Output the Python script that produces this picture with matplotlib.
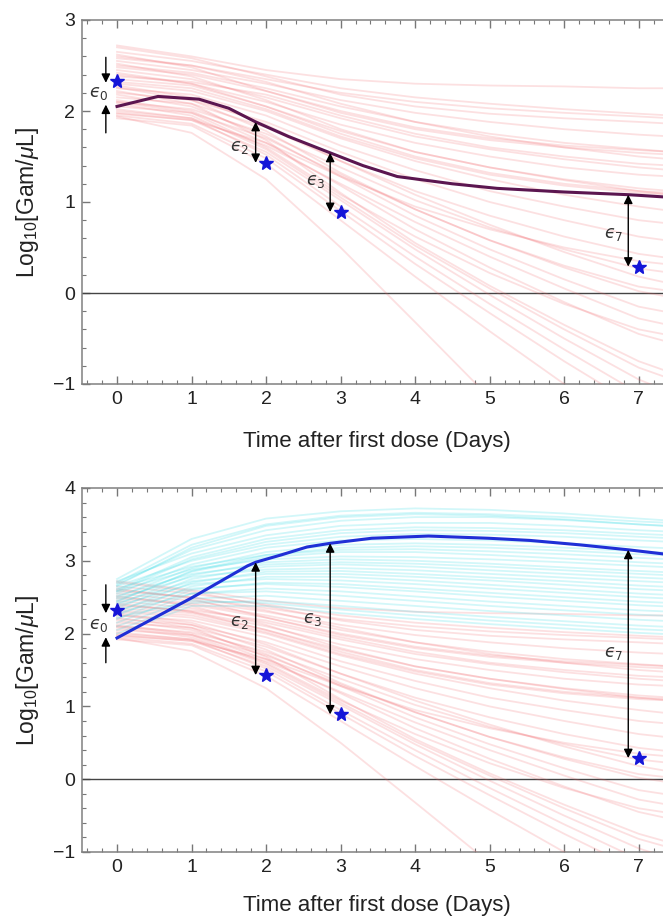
import numpy as np
import matplotlib
matplotlib.use("Agg")
import matplotlib.pyplot as plt
from matplotlib.ticker import MultipleLocator

plt.rcParams['font.family'] = ['Liberation Sans', 'DejaVu Sans']
plt.rcParams['mathtext.fontset'] = 'custom'
plt.rcParams['mathtext.rm'] = 'Liberation Sans'
plt.rcParams['mathtext.it'] = 'Liberation Sans:italic'

# sample days for the model trajectories
days = [0, 1, 2, 3, 4, 5, 6, 7, 7.45]

# non-responder (red) trajectories, log10 Gam/uL at each sample day
red_runs = [
    [2.72, 2.60, 2.45, 2.35, 2.30, 2.28, 2.27, 2.25, 2.25],
    [2.65, 2.55, 2.40, 2.25, 2.15, 2.08, 2.02, 1.97, 1.95],
    [2.60, 2.50, 2.35, 2.20, 2.10, 2.03, 1.98, 1.94, 1.92],
    [2.70, 2.58, 2.38, 2.18, 2.05, 1.97, 1.92, 1.88, 1.86],
    [2.55, 2.45, 2.30, 2.12, 1.98, 1.88, 1.80, 1.74, 1.72],
    [2.50, 2.42, 2.25, 2.05, 1.88, 1.75, 1.65, 1.58, 1.55],
    [2.62, 2.48, 2.22, 1.98, 1.80, 1.68, 1.60, 1.54, 1.52],
    [2.45, 2.35, 2.15, 1.92, 1.72, 1.58, 1.47, 1.38, 1.35],
    [2.40, 2.30, 2.10, 1.85, 1.65, 1.50, 1.38, 1.30, 1.28],
    [2.35, 2.28, 2.05, 1.78, 1.55, 1.38, 1.24, 1.12, 1.08],
    [2.30, 2.22, 2.00, 1.70, 1.45, 1.25, 1.08, 0.95, 0.90],
    [2.25, 2.18, 1.95, 1.62, 1.35, 1.12, 0.95, 0.80, 0.76],
    [2.20, 2.12, 1.88, 1.55, 1.25, 1.00, 0.80, 0.62, 0.57],
    [2.15, 2.08, 1.82, 1.45, 1.12, 0.85, 0.62, 0.43, 0.38],
    [2.10, 2.02, 1.75, 1.38, 1.02, 0.72, 0.48, 0.27, 0.22],
    [2.28, 2.15, 1.85, 1.45, 1.08, 0.75, 0.45, 0.18, 0.10],
    [2.05, 1.98, 1.70, 1.30, 0.92, 0.58, 0.28, 0.02, -0.05],
    [2.18, 2.05, 1.72, 1.28, 0.85, 0.48, 0.15, -0.15, -0.22],
    [2.00, 1.92, 1.62, 1.20, 0.78, 0.40, 0.05, -0.28, -0.36],
    [2.12, 2.00, 1.65, 1.18, 0.70, 0.28, -0.10, -0.45, -0.55],
    [2.08, 1.95, 1.58, 1.05, 0.52, 0.05, -0.40, -0.82, -0.95],
    [1.98, 1.90, 1.55, 1.02, 0.48, -0.02, -0.50, -0.95, -1.10],
    [2.02, 1.92, 1.52, 0.95, 0.40, -0.12, -0.62, -1.10, -1.25],
    [1.95, 1.86, 1.48, 0.90, 0.32, -0.22, -0.75, -1.25, -1.40],
    [2.22, 2.08, 1.68, 1.10, 0.55, 0.08, -0.35, -0.75, -0.88],
    [1.92, 1.84, 1.42, 0.80, 0.18, -0.42, -1.00, -1.55, -1.70],
    [1.94, 1.76, 1.25, 0.50, -0.32, -1.15, -2.00, -2.80, -3.10],
    [2.48, 2.40, 2.22, 2.00, 1.82, 1.70, 1.62, 1.57, 1.55],
    [2.38, 2.32, 2.18, 1.95, 1.75, 1.60, 1.50, 1.42, 1.40],
    [2.58, 2.50, 2.32, 2.08, 1.88, 1.72, 1.60, 1.50, 1.47],
    [2.32, 2.25, 2.02, 1.72, 1.48, 1.30, 1.18, 1.10, 1.08],
    [2.42, 2.30, 2.05, 1.75, 1.50, 1.32, 1.20, 1.12, 1.10],
    [1.97, 1.90, 1.65, 1.28, 0.95, 0.70, 0.50, 0.35, 0.31],
    [2.10, 1.98, 1.60, 1.08, 0.62, 0.22, -0.12, -0.40, -0.47],
    [2.26, 2.12, 1.78, 1.32, 0.92, 0.58, 0.30, 0.07, 0.02],
    [2.52, 2.38, 2.12, 1.80, 1.55, 1.38, 1.25, 1.15, 1.12],
]

# responder (cyan) trajectories, bottom panel only
cyan_runs = [
    [2.75, 3.30, 3.58, 3.68, 3.72, 3.70, 3.65, 3.58, 3.55],
    [2.70, 3.22, 3.50, 3.62, 3.66, 3.64, 3.60, 3.54, 3.52],
    [2.68, 3.15, 3.42, 3.55, 3.60, 3.60, 3.56, 3.50, 3.48],
    [2.72, 3.10, 3.35, 3.48, 3.52, 3.52, 3.48, 3.42, 3.40],
    [2.60, 3.05, 3.30, 3.42, 3.46, 3.45, 3.42, 3.37, 3.35],
    [2.65, 3.00, 3.22, 3.33, 3.37, 3.36, 3.33, 3.28, 3.26],
    [2.55, 2.95, 3.18, 3.28, 3.30, 3.28, 3.24, 3.19, 3.17],
    [2.50, 2.90, 3.12, 3.22, 3.24, 3.22, 3.18, 3.13, 3.11],
    [2.62, 2.92, 3.08, 3.15, 3.16, 3.13, 3.09, 3.04, 3.02],
    [2.45, 2.85, 3.05, 3.12, 3.12, 3.08, 3.03, 2.98, 2.96],
    [2.58, 2.88, 3.02, 3.06, 3.05, 3.02, 2.98, 2.93, 2.91],
    [2.40, 2.80, 2.98, 3.02, 3.00, 2.96, 2.91, 2.86, 2.84],
    [2.52, 2.82, 2.95, 2.98, 2.96, 2.92, 2.87, 2.82, 2.80],
    [2.35, 2.75, 2.92, 2.95, 2.92, 2.87, 2.82, 2.77, 2.75],
    [2.48, 2.78, 2.88, 2.90, 2.87, 2.82, 2.77, 2.72, 2.70],
    [2.30, 2.70, 2.85, 2.86, 2.82, 2.77, 2.72, 2.66, 2.64],
    [2.42, 2.72, 2.82, 2.82, 2.78, 2.73, 2.67, 2.61, 2.59],
    [2.25, 2.65, 2.78, 2.78, 2.73, 2.67, 2.61, 2.55, 2.53],
    [2.38, 2.68, 2.75, 2.73, 2.68, 2.62, 2.56, 2.50, 2.48],
    [2.20, 2.60, 2.70, 2.68, 2.62, 2.56, 2.50, 2.44, 2.42],
    [2.32, 2.62, 2.68, 2.64, 2.58, 2.51, 2.45, 2.39, 2.37],
    [2.15, 2.55, 2.62, 2.58, 2.51, 2.44, 2.38, 2.32, 2.30],
    [2.28, 2.55, 2.58, 2.52, 2.45, 2.38, 2.32, 2.26, 2.24],
    [2.10, 2.48, 2.52, 2.45, 2.38, 2.31, 2.25, 2.19, 2.17],
    [2.05, 2.42, 2.45, 2.38, 2.30, 2.23, 2.17, 2.11, 2.09],
    [2.22, 2.45, 2.42, 2.33, 2.25, 2.18, 2.12, 2.06, 2.04],
    [2.00, 2.38, 2.38, 2.28, 2.20, 2.13, 2.07, 2.01, 1.99],
    [2.66, 3.18, 3.48, 3.60, 3.64, 3.62, 3.57, 3.50, 3.47],
    [2.58, 3.02, 3.26, 3.38, 3.42, 3.41, 3.38, 3.33, 3.31],
    [2.44, 2.86, 3.08, 3.18, 3.20, 3.18, 3.14, 3.09, 3.07],
]

# best-fit curves
top_fit_t = [0, 0.55, 1.1, 1.5, 1.86, 2.3, 2.86, 3.3, 3.76, 4.5, 5.1, 6.0, 6.87, 7.45]
top_fit_y = [2.05, 2.16, 2.13, 2.03, 1.88, 1.72, 1.54, 1.40, 1.28, 1.20, 1.15, 1.11, 1.08, 1.05]
bot_fit_t = [0, 1, 1.75, 1.86, 2.2, 2.55, 2.86, 3.42, 4.18, 4.98, 5.54, 6.2, 6.87, 7.45]
bot_fit_y = [1.94, 2.49, 2.93, 2.98, 3.08, 3.19, 3.24, 3.31, 3.34, 3.31, 3.28, 3.22, 3.15, 3.08]

# observed patient data (stars)
obs_days = [0, 2, 3, 7]
obs_vals = [2.33, 1.43, 0.89, 0.29]

eps_labels = ['$\u03f5_2$', '$\u03f5_3$', '$\u03f5_7$']


def style_axes(ax, ymin, ymax):
    ax.set_xlim(-0.47, 7.42)
    ax.set_ylim(ymin, ymax)
    ax.xaxis.set_major_locator(MultipleLocator(1))
    ax.xaxis.set_minor_locator(MultipleLocator(0.2))
    ax.yaxis.set_major_locator(MultipleLocator(1))
    ax.yaxis.set_minor_locator(MultipleLocator(0.2))
    ax.tick_params(which='both', direction='in', top=True, right=False,
                   color='#777777', labelcolor='#222222', labelsize=14, pad=5)
    ax.tick_params(which='major', length=6, width=1)
    ax.tick_params(which='minor', length=3, width=0.8)
    for sp in ax.spines.values():
        sp.set_color('#808080')
        sp.set_linewidth(1.1)
    ax.axhline(0, color='#444444', lw=1, zorder=2)
    ax.set_ylabel(r'Log$_{10}$[Gam/$\mu$L]', fontsize=16.5, color='#222222')
    ax.yaxis.set_label_coords(-0.07, 0.5)
    ax.set_xlabel('Time after first dose (Days)', fontsize=16, color='#222222')


def arrow(ax, x, y0, y1, style):
    ax.annotate('', xy=(x, y1), xytext=(x, y0),
                arrowprops=dict(arrowstyle=style, color='black', lw=1,
                                mutation_scale=13, shrinkA=0, shrinkB=0),
                zorder=6)


def annotate_errors(ax, fit_t, fit_y, e0_down, e0_up, eps_pos):
    off = 0.14
    arrow(ax, -0.15, e0_down[0], e0_down[1], '-|>')
    arrow(ax, -0.15, e0_up[0], e0_up[1], '-|>')
    ax.text(-0.24, (e0_down[1] + e0_up[1]) / 2, '$\u03f5_0$', fontsize=12.5,
            color='#333333', ha='center', va='center', math_fontfamily='dejavusans')
    for d, v, lab, pos in zip(obs_days[1:], obs_vals[1:], eps_labels, eps_pos):
        x = d - off
        top = np.interp(x, fit_t, fit_y)
        arrow(ax, x, v, top, '<|-|>')
        ax.text(pos[0], pos[1], lab, fontsize=12.5, color='#333333',
                ha='center', va='center', math_fontfamily='dejavusans')
    ax.plot(obs_days, obs_vals, '*', color='#1515d8', ms=10, zorder=7)


fig = plt.figure(figsize=(6.63, 9.17), dpi=100)
ax1 = fig.add_axes([82 / 663, 533 / 917, 588 / 663, 364 / 917])
ax2 = fig.add_axes([82 / 663, 65 / 917, 588 / 663, 364 / 917])

red_col = (0.95, 0.40, 0.42)
cyan_col = (0.20, 0.86, 0.90)

for run in red_runs:
    ax1.plot(days, run, color=red_col, alpha=0.2, lw=1.3, zorder=3)
ax1.plot(top_fit_t, top_fit_y, color='#5b1650', lw=2.2, zorder=5)
style_axes(ax1, -1, 3)
ax1.xaxis.set_label_coords(0.502, -0.13)
annotate_errors(ax1, top_fit_t, top_fit_y, (2.59, 2.31), (1.76, 2.07),
                [(1.65, 1.6), (2.66, 1.22), (6.66, 0.64)])

for run in red_runs:
    ax2.plot(days, run, color=red_col, alpha=0.2, lw=1.3, zorder=3)
for run in cyan_runs:
    ax2.plot(days, run, color=cyan_col, alpha=0.22, lw=1.3, zorder=3)
ax2.plot(bot_fit_t, bot_fit_y, color='#1f2fd6', lw=2.2, zorder=5)
style_axes(ax2, -1, 4)
ax2.xaxis.set_label_coords(0.502, -0.118)
annotate_errors(ax2, bot_fit_t, bot_fit_y, (2.67, 2.28), (1.60, 1.95),
                [(1.65, 2.15), (2.63, 2.19), (6.66, 1.73)])

fig.savefig('out.png', dpi=100)
